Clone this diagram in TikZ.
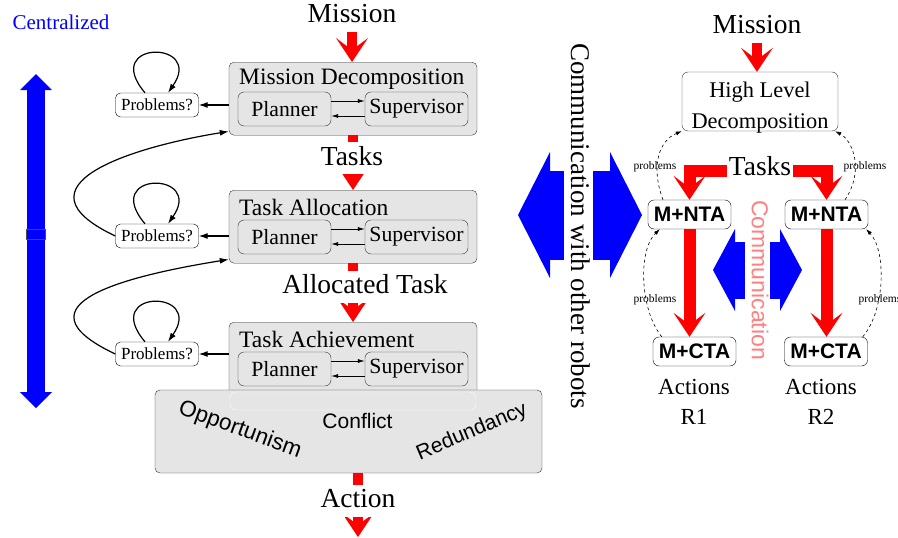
\documentclass[tikz,border=0pt]{standalone}
\usepackage{fontspec}
\setmainfont{Liberation Serif}
\setsansfont{Liberation Sans}
\usetikzlibrary{arrows.meta}

\definecolor{boxgray}{gray}{0.9}
\definecolor{commpink}{RGB}{255,128,128}

\tikzset{
  levelbox/.style={draw=black!80, fill=boxgray, rounded corners=5pt, minimum width=248pt, minimum height=73pt},
  subbox/.style={draw=black!80, fill=boxgray, rounded corners=6pt, minimum height=34pt, inner sep=0pt, font=\fontsize{21.7}{24}\selectfont},
  probbox/.style={draw, fill=white, rounded corners=5pt, minimum width=83pt, minimum height=24pt, inner sep=0pt, font=\fontsize{17}{20}\selectfont},
  flowlabel/.style={fill=white, inner xsep=2pt, inner ysep=3pt, text height=20pt, text depth=6pt, font=\fontsize{27.5}{30}\selectfont},
  robotbox/.style={draw, fill=white, rounded corners=6pt, minimum width=83pt, minimum height=29pt, inner sep=0pt, font=\sffamily\bfseries\fontsize{21}{24}\selectfont},
  redflow/.style={draw=red, line width=10pt, -{Stealth[width=32pt,length=24pt,inset=12pt,line width=0pt]}},
  problink/.style={line width=1.2pt, -{Latex[length=9pt,width=6pt]}},
  sublink/.style={line width=0.7pt, -{Latex[length=7pt,width=4pt]}},
  dashlink/.style={dashed, line width=0.6pt, -{Latex[length=6pt,width=4pt]}},
  tinylabel/.style={font=\fontsize{11.5}{13}\selectfont, inner sep=0pt},
  sidetext/.style={font=\sffamily\fontsize{21}{24}\selectfont},
}

\begin{document}
\begin{tikzpicture}[x=1pt, y=-1pt]
    \useasboundingbox (0,0) rectangle (898,538);

    % centralized axis
    \draw[blue, line width=18pt, {Triangle[width=32pt,length=16pt,line width=0pt]}-{Triangle[width=32pt,length=16pt,line width=0pt]}] (36,74) -- (36,408);
    \draw[fill=blue, draw=black!70] (26.5,229) rectangle (45.5,239);
    \node[blue, font=\fontsize{21}{24}\selectfont] (central) at (61,22) {Centralized};

    % the three levels
    \foreach \i/\y/\py/\title in {1/62/105/Mission Decomposition, 2/190/236/Task Allocation, 3/322/354/Task Achievement}{
        \node[levelbox, anchor=north] (box\i) at (353,\y) {};
        \node[anchor=west, inner sep=0pt, font=\fontsize{23.5}{26}\selectfont] (title\i) at (239,\y+17.5) {\title};
        \node[subbox, minimum width=93pt] (pl\i) at (284.5,\y+47) {Planner};
        \node[subbox, minimum width=103pt] (sv\i) at (416.5,\y+47) {Supervisor};
        \draw[sublink] ([yshift=8pt]pl\i.east) -- ([yshift=8pt]sv\i.west);
        \draw[sublink] ([yshift=-7pt]sv\i.west) -- ([yshift=-7pt]pl\i.east);
        \node[probbox] (pb\i) at (157,\py) {Problems?};
        \draw[problink] (box\i.west |- pb\i) -- (pb\i);
        \draw[problink] ([xshift=-12pt]pb\i.north) .. controls +(-45,-53) and +(37,-53) .. ([xshift=11pt]pb\i.north);
    }
    \foreach \i/\j in {2/1, 3/2}
        \draw[problink] (pb\i.west) .. controls +(-106,-50) and +(-99,16) .. ([yshift=4pt]box\j.south west);

    % conflicts box
    \node[levelbox, minimum width=387pt, minimum height=83pt] (conflict) at (348.5,431.5) {};
    \draw[white, rounded corners=6pt] (230,392) rectangle (476,410);
    \node[sidetext, font=\sffamily\fontsize{22.5}{24}\selectfont, rotate=-20] (opport) at (240,430) {Opportunism};
    \node[sidetext] (confl) at (357.5,421) {Conflict};
    \node[sidetext, rotate=23] (redund) at (472,432) {Redundancy};

    % flow down the levels
    \node[flowlabel] (mission) at (352,16) {Mission};
    \draw[redflow] (mission.south) -- (mission.south |- box1.north);
    \draw[redflow] (box1.south) -- (box2.north);
    \node[flowlabel] (tasks) at (352,158) {Tasks};
    \draw[redflow] (box2.south) -- (box3.north);
    \node[flowlabel] (alloc) at (365,286.5) {Allocated Task};
    \coordinate (actout) at (358,537);
    \draw[redflow] (conflict.south -| actout) -- (actout);
    \node[flowlabel] (action) at (358,500.5) {Action};

    % communication between the two views
    \draw[blue, line width=89pt, {Triangle[width=126pt,length=32pt,line width=0pt]}-{Triangle[width=126pt,length=32pt,line width=0pt]}] (518,215) -- (642,215);
    \node[fill=white, rotate=-90, inner xsep=2pt, inner ysep=2pt, text height=19pt, text depth=6pt, font=\fontsize{27}{30}\selectfont] (commrob) at (578,226) {Communication with other robots};

    % distributed view
    \node[flowlabel] (mission2) at (757,26.5) {Mission};
    \node[draw=black!80, fill=white, rounded corners=6pt, minimum width=156pt, minimum height=59pt] (hld) at (760,101.5) {};
    \node[align=center, inner sep=0pt, font=\fontsize{22.4}{31}\selectfont] (hldtext) at (760,107.5) {High Level\\Decomposition};
    \draw[redflow] (mission2.south) -- (mission2.south |- hld.north);

    \node[flowlabel] (tasks2) at (760,168.5) {Tasks};
    \node[robotbox] (nta1) at (689.5,214.5) {M+NTA};
    \node[robotbox] (nta2) at (826.5,214.5) {M+NTA};
    \node[robotbox] (cta1) at (694.5,351.5) {M+CTA};
    \node[robotbox] (cta2) at (826,351.5) {M+CTA};
    \draw[redflow, line width=12pt] ([yshift=-2.5pt]tasks2.west) -| (nta1.north);
    \draw[redflow, line width=12pt] ([yshift=-2.5pt]tasks2.east) -| (nta2.north);
    \draw[redflow, line width=12pt] (nta1.south) -- (nta1.south |- cta1.north);
    \draw[redflow, line width=12pt] (nta2.south) -- (nta2.south |- cta2.north);

    \draw[blue, line width=57pt, {Triangle[width=82pt,length=22pt,line width=0pt]}-{Triangle[width=82pt,length=22pt,line width=0pt]}] (713,270) -- (802,270);
    \node[fill=white, text=commpink, rotate=-90, inner sep=2pt, text height=16pt, text depth=4.5pt, sidetext, font=\sffamily\fontsize{23}{24}\selectfont] (comm) at (757.5,280) {Communication};

    \draw[dashlink] ([xshift=-26.5pt]nta1.north) .. controls +(-13,-35) and +(-22,9) .. (hld.south west);
    \draw[dashlink] ([xshift=9pt]cta1.north west) .. controls +(-22,-27) and +(-22,21) .. ([xshift=12pt]nta1.south west);
    \draw[dashlink] ([xshift=18.5pt]nta2.north) .. controls +(20,-30) and +(17,9) .. ([xshift=-3pt]hld.south east);
    \draw[dashlink] ([xshift=-5pt]cta2.north east) .. controls +(23,-27) and +(20,21) .. ([xshift=-2pt]nta2.south east);
    \node[tinylabel] (pr1) at (655,167) {problems};
    \node[tinylabel] (pr2) at (865,167) {problems};
    \node[tinylabel] (pr3) at (655,300) {problems};
    \node[tinylabel] (pr4) at (880,300) {problems};

    \node[align=center, font=\fontsize{23}{30}\selectfont] (act1) at (694,402) {Actions\\R1};
    \node[align=center, font=\fontsize{23}{30}\selectfont] (act2) at (821,402) {Actions\\R2};
\end{tikzpicture}
\end{document}
